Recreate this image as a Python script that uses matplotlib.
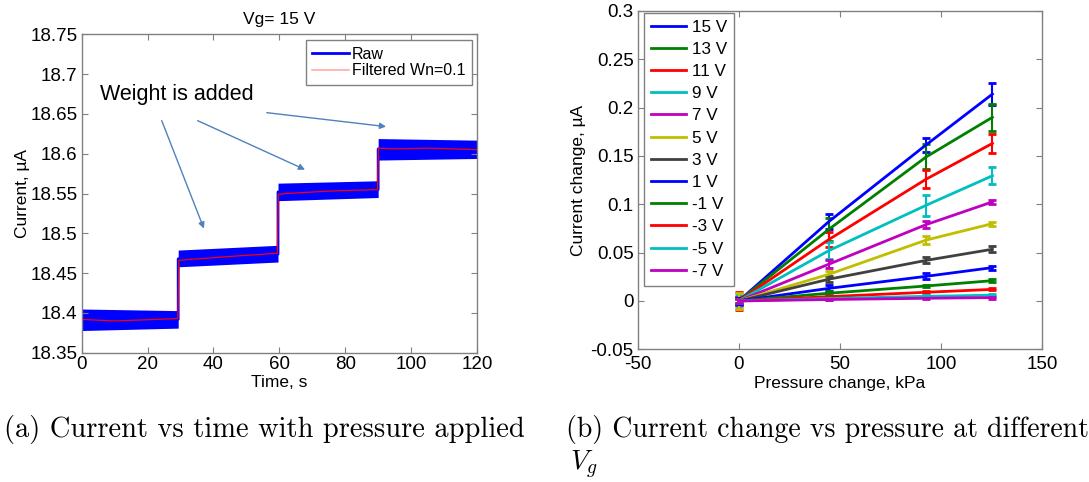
import numpy as np
import matplotlib.pyplot as plt
from matplotlib.lines import Line2D
from matplotlib.ticker import FixedLocator, FuncFormatter

plt.rcParams['font.family'] = ['Liberation Sans', 'DejaVu Sans']
plt.rcParams['axes.unicode_minus'] = False
plt.rcParams['mathtext.fontset'] = 'cm'

# (a) current vs time, Vg = 15 V
t_env = [0, 29.3, 29.3, 59.6, 59.6, 90.0, 90.0, 120]
raw_hi = [18.405, 18.403, 18.479, 18.485, 18.563, 18.566, 18.619, 18.617]
raw_lo = [18.378, 18.381, 18.458, 18.464, 18.541, 18.545, 18.592, 18.594]
raw_mid = [18.392, 18.392, 18.468, 18.474, 18.552, 18.555, 18.606, 18.606]

t_filt = [0, 10, 29.2, 29.5, 32, 45, 59.4, 59.7, 62, 75, 89.8, 90.1, 95, 105, 120]
i_filt = [18.392, 18.390, 18.393, 18.466, 18.467, 18.471, 18.475, 18.549,
          18.550, 18.553, 18.555, 18.607, 18.606, 18.607, 18.605]

# arrow tails / heads for "Weight is added"
arrow_from = [(24.3, 18.6415), (35.2, 18.6415), (56.2, 18.6515)]
arrow_to = [(37.1, 18.506), (67.8, 18.580), (92.4, 18.634)]

# (b) current change vs pressure
pressure = [0, 44.5, 92.7, 125.5]
vg_labels = ['15 V', '13 V', '11 V', '9 V', '7 V', '5 V', '3 V', '1 V',
             '-1 V', '-3 V', '-5 V', '-7 V']
dI = [
    [0, 0.082, 0.1615, 0.214],
    [0, 0.074, 0.149, 0.190],
    [0, 0.0635, 0.126, 0.163],
    [0, 0.052, 0.099, 0.1295],
    [0, 0.038, 0.079, 0.1025],
    [0, 0.0275, 0.063, 0.080],
    [0, 0.0225, 0.042, 0.0535],
    [0, 0.013, 0.0255, 0.0345],
    [0, 0.008, 0.0155, 0.021],
    [0, 0.0045, 0.009, 0.012],
    [0, 0.0025, 0.0048, 0.006],
    [0, 0.0015, 0.0028, 0.0035],
]
dI_err = [
    [0.004, 0.008, 0.007, 0.011],
    [0.004, 0.012, 0.013, 0.014],
    [0.009, 0.008, 0.009, 0.010],
    [0.006, 0.009, 0.011, 0.009],
    [0.004, 0.004, 0.004, 0.002],
    [0.008, 0.003, 0.004, 0.002],
    [0.003, 0.003, 0.003, 0.003],
    [0.003, 0.003, 0.003, 0.002],
    [0.002, 0.002, 0.001, 0.0015],
    [0.002, 0.001, 0.001, 0.001],
    [0.002, 0.001, 0.001, 0.001],
    [0.002, 0.001, 0.001, 0.001],
]
matlab_cols = [(0, 0, 1), (0, 0.5, 0), (1, 0, 0), (0, 0.75, 0.75),
               (0.75, 0, 0.75), (0.75, 0.75, 0), (0.25, 0.25, 0.25)]

fig = plt.figure(figsize=(10.89, 4.82), dpi=100)
ax1 = fig.add_axes([0.075, 0.268, 0.363, 0.661])
ax2 = fig.add_axes([0.5856, 0.2753, 0.3712, 0.702])

def matlab_box(ax, xpad=3):
    for s in ax.spines.values():
        s.set_color('#808080')
        s.set_linewidth(1.0)
    ax.tick_params(direction='in', top=True, right=True, length=4,
                   color='#808080', labelsize=13.5, pad=3)
    ax.tick_params(axis='x', pad=xpad)
    ax.yaxis.set_major_formatter(FuncFormatter(lambda v, p: '%g' % round(v, 4)))
    ax.xaxis.set_major_formatter(FuncFormatter(lambda v, p: '%g' % round(v, 4)))

# ---- left panel
ax1.fill_between(t_env, raw_lo, raw_hi, color='#0000ff', lw=0)
ax1.plot(t_env, raw_mid, color='#0000ff', lw=2)
ax1.plot(t_filt, i_filt, color='#ff0000', lw=0.9)
ax1.set_xlim(0, 120)
ax1.set_ylim(18.35, 18.75)
ax1.xaxis.set_major_locator(FixedLocator(np.arange(0, 121, 20)))
ax1.yaxis.set_major_locator(FixedLocator(np.arange(18.35, 18.751, 0.05)))
matlab_box(ax1, xpad=2)
ax1.set_title('Vg= 15 V', fontsize=12.5, pad=7)
ax1.set_xlabel('Time, s', fontsize=12.5, labelpad=2)
ax1.set_ylabel('Current, µA', fontsize=12.5, labelpad=0.5)

for (x0, y0), (x1, y1) in zip(arrow_from, arrow_to):
    ax1.annotate('', xy=(x1, y1), xytext=(x0, y0),
                 arrowprops=dict(arrowstyle='-|>', color='#4f81bd', lw=1,
                                 mutation_scale=9, shrinkA=0, shrinkB=0))
ax1.text(5.6, 18.674, 'Weight is added', fontsize=15.5, va='center', ha='left')

h_raw = Line2D([], [], color='#0000ff', lw=2)
h_filt = Line2D([], [], color='#ffaaaa', lw=1.2)
leg1 = ax1.legend([h_raw, h_filt], ['Raw', 'Filtered Wn=0.1'], loc='upper right',
                  bbox_to_anchor=(1 - 5 / 395.3, 1 - 6 / 318.4), borderaxespad=0,
                  fontsize=11.5, fancybox=False, framealpha=1, edgecolor='#808080',
                  handlelength=2.26, handletextpad=0.2, labelspacing=0.08,
                  borderpad=0.42)
leg1.get_frame().set_linewidth(1.0)

# ---- right panel
handles = []
for k, (vals, errs) in enumerate(zip(dI, dI_err)):
    c = matlab_cols[k % len(matlab_cols)]
    ax2.errorbar(pressure, vals, yerr=errs, color=c, lw=2, elinewidth=1.5,
                 capsize=3, capthick=2)
    handles.append(Line2D([], [], color=c, lw=2))
ax2.set_xlim(-50, 150)
ax2.set_ylim(-0.05, 0.3)
ax2.xaxis.set_major_locator(FixedLocator([-50, 0, 50, 100, 150]))
ax2.yaxis.set_major_locator(FixedLocator(np.arange(-0.05, 0.301, 0.05)))
matlab_box(ax2, xpad=5)
ax2.set_xlabel('Pressure change, kPa', fontsize=12.5, labelpad=2)
ax2.set_ylabel('Current change, µA', fontsize=12.5, labelpad=3)
leg2 = ax2.legend(handles, vg_labels, loc='upper left',
                  bbox_to_anchor=(6 / 404.3, 1 - 2 / 338.3), borderaxespad=0,
                  fontsize=12.3, fancybox=False, framealpha=1, edgecolor='#808080',
                  handlelength=2.05, handletextpad=0.35, labelspacing=0.42,
                  borderpad=0.4)
leg2.get_frame().set_linewidth(1.0)

# captions
fig.text(0.004, 0.108, '(a) Current vs time with pressure applied',
         family='cmr10', fontsize=20.5, va='center', ha='left')
fig.text(0.520, 0.108, '(b) Current change vs pressure at different',
         family='cmr10', fontsize=20, va='center', ha='left')
fig.text(0.523, 0.035, r'$V_g$', fontsize=20, va='center', ha='left')

fig.savefig('out.png', dpi=100)
